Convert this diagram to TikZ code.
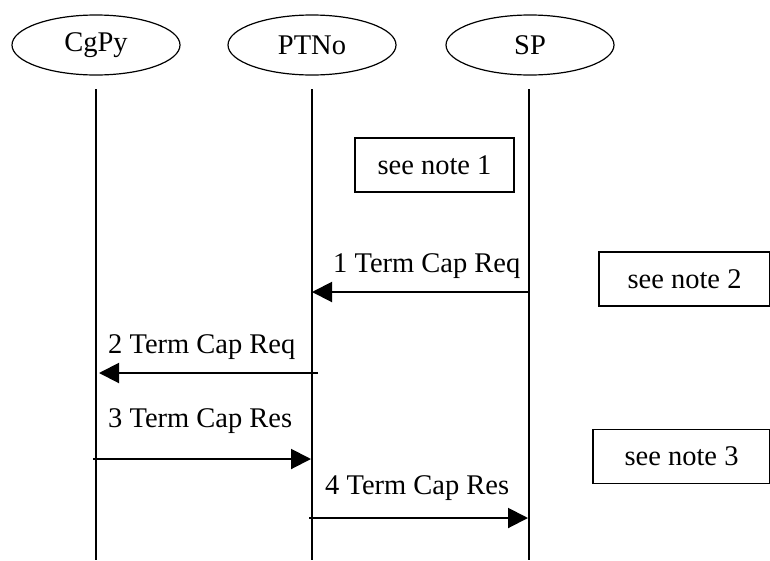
\documentclass[tikz,border=0pt]{standalone}
\usepackage{fontspec}
\setmainfont{Liberation Serif}
\usetikzlibrary{arrows.meta,shapes}

\tikzset{
  bigfont/.style={font=\fontsize{28.5}{34}\selectfont},
  actor/.style={draw,ellipse,line width=1.2pt,minimum width=168pt,minimum height=60pt,inner sep=0pt,bigfont},
  notebox/.style={draw,line width=1.2pt,minimum height=54pt,inner sep=0pt,bigfont},
  msglabel/.style={anchor=base west,inner sep=0pt,bigfont},
  lifeline/.style={line width=1.2pt},
  signal/.style={line width=2pt,-{Triangle[length=20pt,width=20pt]}}
}

\begin{document}
\begin{tikzpicture}[x=1pt,y=-1pt]
  \useasboundingbox (0,0) rectangle (770,560);
% Actors
  \node[actor] (cgpy) at (96,45) {CgPy};
  \node[actor] (ptno) at (312,45) {PTNo};
  \node[actor] (sp) at (530,45) {SP};
% Life lines
  \coordinate (cgpy-top) at (96,89);
  \coordinate (cgpy-bot) at (96,560);
  \coordinate (ptno-top) at (312,89);
  \coordinate (ptno-bot) at (312,560);
  \coordinate (sp-top) at (529,89);
  \coordinate (sp-bot) at (529,560);
  \draw[lifeline] (cgpy-top) -- (cgpy-bot);
  \draw[lifeline] (ptno-top) -- (ptno-bot);
  \draw[lifeline] (sp-top) -- (sp-bot);
% Notes
  \node[notebox,minimum width=159pt] (note1) at (434.5,165) {see note 1};
  \node[notebox,minimum width=171pt] (note2) at (684.5,279) {see note 2};
  \node[notebox,minimum width=177pt] (note3) at (681.5,456.5) {see note 3};
% Messages
  \coordinate (m1-from) at (529,292);
  \coordinate (m1-to) at (312,292);
  \draw[signal] (m1-from) -- (m1-to);
  \node[msglabel] (m1) at (333,272) {1 Term Cap Req};
  \coordinate (m2-from) at (318,373);
  \coordinate (m2-to) at (99,373);
  \draw[signal] (m2-from) -- (m2-to);
  \node[msglabel] (m2) at (108,353) {2 Term Cap Req};
  \coordinate (m3-from) at (93,459);
  \coordinate (m3-to) at (311,459);
  \draw[signal] (m3-from) -- (m3-to);
  \node[msglabel] (m3) at (108,427) {3 Term Cap Res};
  \coordinate (m4-from) at (309,518);
  \coordinate (m4-to) at (528,518);
  \draw[signal] (m4-from) -- (m4-to);
  \node[msglabel] (m4) at (325,494) {4 Term Cap Res};
\end{tikzpicture}
\end{document}
